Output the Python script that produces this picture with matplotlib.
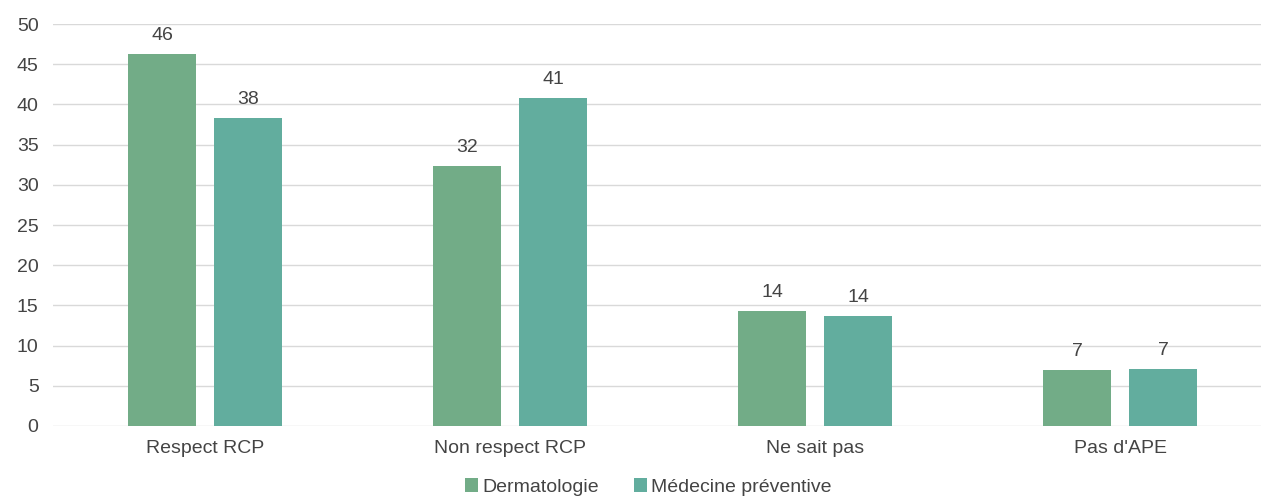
import numpy as np
import matplotlib.pyplot as plt

# ---- data ----
categories = ["Respect RCP", "Non respect RCP", "Ne sait pas", "Pas d'APE"]
dermato = [46.3, 32.4, 14.3, 7.0]
med_prev = [38.3, 40.8, 13.7, 7.1]
series_names = ["Dermatologie", "Médecine préventive"]
yticks = list(range(0, 55, 5))

# ---- style ----
plt.rcParams['font.family'] = ['Liberation Sans', 'DejaVu Sans']
text_col = '#444444'
colors = ['#72ac87', '#62ad9e']
fs = 14

fig = plt.figure(figsize=(12.61, 4.96), dpi=100)
ax = fig.add_axes([52.5 / 1261, 1 - 426 / 496, 1220 / 1261, (426 - 24) / 496])

x = np.arange(len(categories))
w = 0.223
off = 0.141
b1 = ax.bar(x - off, dermato, w, color=colors[0], label=series_names[0], zorder=3)
b2 = ax.bar(x + off, med_prev, w, color=colors[1], label=series_names[1], zorder=3)

# value labels (rounded)
for bars, vals in ((b1, dermato), (b2, med_prev)):
    for rect, v in zip(bars, vals):
        ax.text(rect.get_x() + rect.get_width() / 2, v + 1.2, "%d" % round(v),
                ha='center', va='bottom', fontsize=fs, color=text_col)

ax.set_xlim(-0.5, 3.5)
ax.set_ylim(0, 50)
ax.set_yticks(yticks)
ax.set_xticks(x)
ax.set_xticklabels(categories)
ax.tick_params(axis='both', length=0, labelsize=fs, colors=text_col)
ax.tick_params(axis='y', pad=10)
ax.tick_params(axis='x', pad=10)
ax.yaxis.grid(True, color='#d9d9d9', linewidth=1, zorder=0)
for s in ax.spines.values():
    s.set_visible(False)

fig.legend(handles=[b1, b2], labels=series_names, loc='lower center',
           bbox_to_anchor=(0.514, -0.035), ncol=2, frameon=False,
           fontsize=fs, handlelength=0.7, handleheight=0.7, handletextpad=0.2,
           columnspacing=1.8, labelcolor=text_col)

fig.savefig("out.png", dpi=100)
